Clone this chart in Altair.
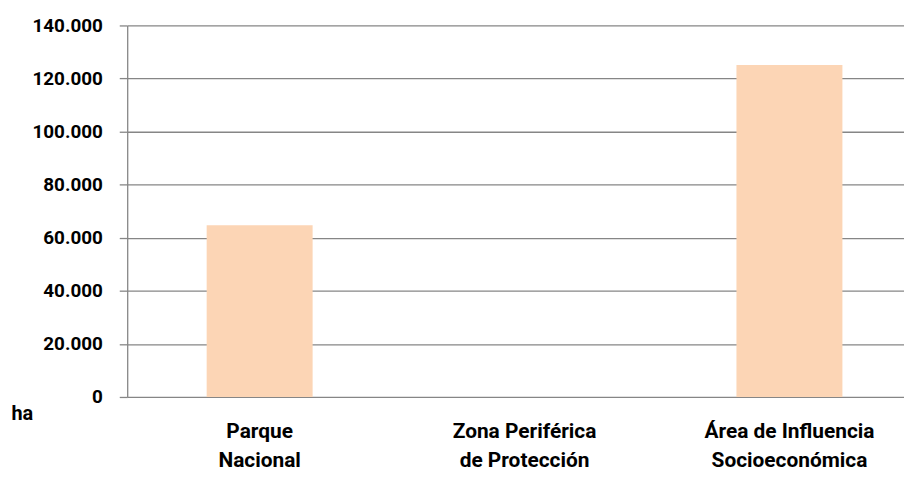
import altair as alt
import pandas as pd

categories = ["Parque Nacional", "Zona Periférica de Protección", "Área de Influencia Socioeconómica"]
labels = ["Parque|Nacional", "Zona Periférica|de Protección", "Área de Influencia|Socioeconómica"]
values = [64700, 0, 125100]
y_ticks = [0, 20000, 40000, 60000, 80000, 100000, 120000, 140000]

df = pd.DataFrame({"cat": labels, "ha": values})

FONT = "Roboto"
GRID = "#868686"

chart = alt.Chart(df).mark_bar(color="#FCD5B5").encode(
    x=alt.X("cat:N", sort=labels,
            scale=alt.Scale(paddingInner=0.6, paddingOuter=0.3, range=[0, 800]),
            axis=alt.Axis(title=None, labelAngle=0, ticks=False, domain=False,
                          labelExpr="split(datum.label, '|')",
                          labelFont=FONT, labelFontSize=21, labelFontWeight="bold",
                          labelColor="black", labelPadding=24, labelLineHeight=29)),
    y=alt.Y("ha:Q", scale=alt.Scale(domain=[0, 140000], nice=False),
            axis=alt.Axis(values=y_ticks, title="ha", titleAngle=0, titleX=-117, titleY=391,
                          titleAlign="left", titleBaseline="middle",
                          titleFont=FONT, titleFontSize=20, titleFontWeight="bold", titleColor="black",
                          labelExpr="replace(format(datum.value, ',.0f'), ',', '.')",
                          labelFont=FONT, labelFontSize=19, labelFontWeight="bold", labelColor="black",
                          labelPadding=17, tickSize=8, tickColor=GRID, domainColor=GRID,
                          gridColor=GRID, gridWidth=1.3, domainWidth=1.3, tickWidth=1.3)),
).properties(
    width=782, height=374,
    autosize=alt.AutoSizeParams(type="none"),
    padding={"left": 120, "top": 16, "right": 0, "bottom": 78},
).configure_view(stroke=None)

chart.save("out.html", embed_options={"renderer": "svg", "actions": False})
